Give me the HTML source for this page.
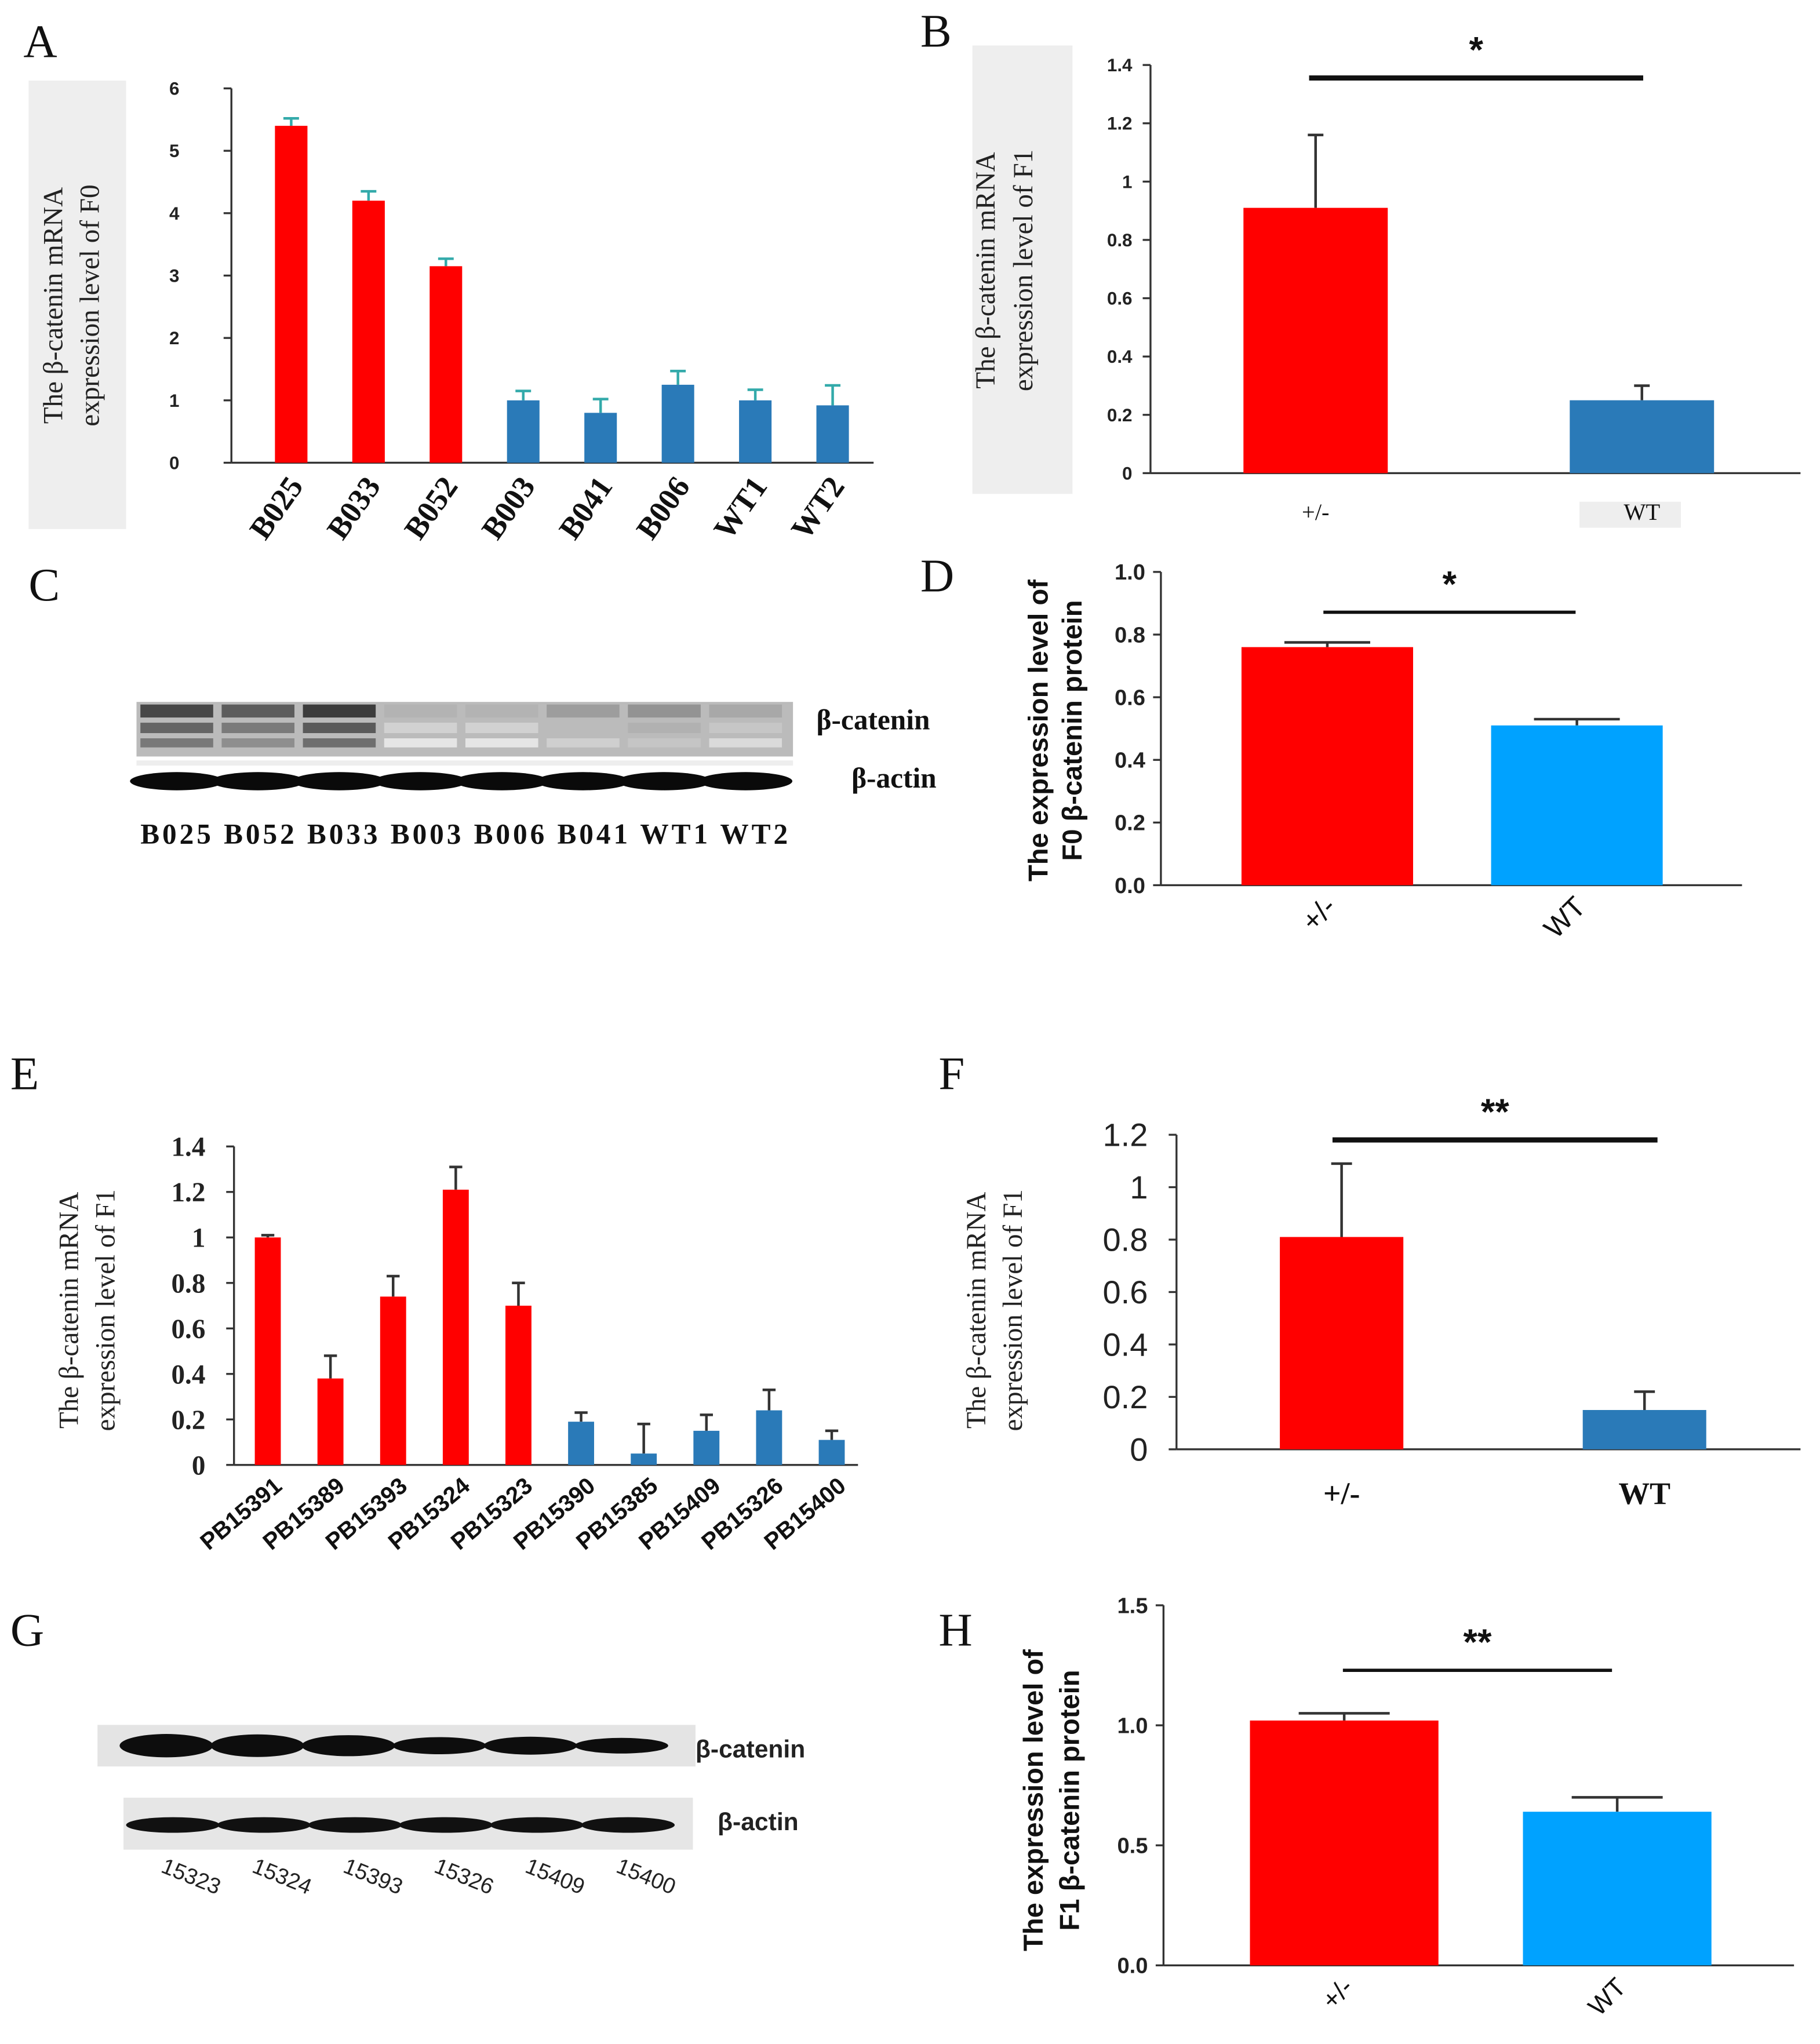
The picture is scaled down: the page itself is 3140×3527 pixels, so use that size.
<!DOCTYPE html>
<html><head><meta charset="utf-8"><style>
html,body{margin:0;padding:0;background:#fff;}
svg{display:block;}
.serif{font-family:"Liberation Serif",serif;}
.sans{font-family:"Liberation Sans",sans-serif;}
</style></head><body>
<svg id="fig" width="3140" height="3527" viewBox="0 0 1400 1572.5" preserveAspectRatio="none" xmlns="http://www.w3.org/2000/svg">
<rect width="1400" height="1572.5" fill="#fff"/>
<g class="serif" font-size="36" fill="#111">
<text x="18" y="44">A</text>
<text x="708" y="36">B</text>
<text x="22" y="462">C</text>
<text x="708" y="455">D</text>
<text x="8" y="838">E</text>
<text x="722" y="838">F</text>
<text x="8" y="1266">G</text>
<text x="722" y="1266">H</text>
</g>
<!-- gray label boxes -->
<rect x="22" y="62" width="75" height="345" fill="#eeeeee"/>
<rect x="748" y="35" width="77" height="345" fill="#eeeeee"/>
<rect x="1215" y="386" width="78" height="20" fill="#eeeeee"/>
<!-- Y titles -->
<g class="serif" font-size="21" fill="#222" text-anchor="middle">
<text transform="translate(48,235) rotate(-90)">The β-catenin mRNA</text>
<text transform="translate(76,235) rotate(-90)">expression level of F0</text>
<text transform="translate(765,208) rotate(-90)">The β-catenin mRNA</text>
<text transform="translate(794,208) rotate(-90)">expression level of F1</text>
<text transform="translate(60,1008) rotate(-90)">The β-catenin mRNA</text>
<text transform="translate(88,1008) rotate(-90)">expression level of F1</text>
<text transform="translate(758,1008) rotate(-90)">The β-catenin mRNA</text>
<text transform="translate(786,1008) rotate(-90)">expression level of F1</text>
</g>
<g class="sans" font-size="21" font-weight="bold" fill="#111" text-anchor="middle">
<text transform="translate(806,562) rotate(-90)">The expression level of</text>
<text transform="translate(832,562) rotate(-90)">F0 β-catenin protein</text>
<text transform="translate(802,1385) rotate(-90)">The expression level of</text>
<text transform="translate(830,1385) rotate(-90)">F1 β-catenin protein</text>
</g>
<!-- Blot C -->
<g>
<rect x="105" y="540" width="505" height="42" fill="#bbb"/>
<g id="blotC"></g>
<rect x="105" y="585" width="505" height="4" fill="#eee"/>
</g>
<g class="serif" font-weight="bold" fill="#111">
<text x="628" y="561" font-size="22">β-catenin</text>
<text x="655" y="606" font-size="22">β-actin</text>
<text x="108" y="649" font-size="22" textLength="498">B025 B052 B033 B003 B006 B041 WT1 WT2</text>
</g>
<!-- Blot G -->
<g>
<rect x="75" y="1327" width="460" height="32" fill="#e4e4e4"/>
<rect x="95" y="1383" width="438" height="40" fill="#e6e6e6"/>
<g id="blotG"></g>
</g>
<g class="sans" font-weight="bold" fill="#222" font-size="19">
<text x="535" y="1352">β-catenin</text>
<text x="552" y="1408">β-actin</text>
</g>
<g id="gLanes" class="sans" font-size="17" fill="#222"></g>
<g id="charts"></g>
</svg>
<script>
// Panel A data
const aCats=["B025","B033","B052","B003","B041","B006","WT1","WT2"];
const aVals=[5.4,4.2,3.15,1.0,0.8,1.25,1.0,0.92];
const aErr=[0.12,0.15,0.12,0.15,0.22,0.22,0.17,0.32];
const aTicks=[0,1,2,3,4,5,6];
// Panel B data
const bCats=["+/-","WT"];
const bVals=[0.91,0.25];
const bErr=[0.25,0.05];
const bTicks=["0","0.2","0.4","0.6","0.8","1","1.2","1.4"];
// Panel D data
const dCats=["+/-","WT"];
const dVals=[0.76,0.51];
const dErr=[0.015,0.02];
const dTicks=["0.0","0.2","0.4","0.6","0.8","1.0"];
// Panel E data
const eCats=["PB15391","PB15389","PB15393","PB15324","PB15323","PB15390","PB15385","PB15409","PB15326","PB15400"];
const eVals=[1.0,0.38,0.74,1.21,0.7,0.19,0.05,0.15,0.24,0.11];
const eErr=[0.01,0.1,0.09,0.1,0.1,0.04,0.13,0.07,0.09,0.04];
const eTicks=["0","0.2","0.4","0.6","0.8","1","1.2","1.4"];
// Panel F data
const fCats=["+/-","WT"];
const fVals=[0.81,0.15];
const fErr=[0.28,0.07];
const fTicks=["0","0.2","0.4","0.6","0.8","1","1.2"];
// Panel H data
const hCats=["+/-","WT"];
const hVals=[1.02,0.64];
const hErr=[0.03,0.06];
const hTicks=["0.0","0.5","1.0","1.5"];
// Blot intensities
const cBand=[0.85,0.75,0.9,0.35,0.35,0.45,0.5,0.4];
const gBand=[1.0,0.95,0.85,0.6,0.65,0.5];
const gLanes=["15323","15324","15393","15326","15409","15400"];

const NS="http://www.w3.org/2000/svg";
const root=document.getElementById('charts');
function mk(tag,attrs,parent){const e=document.createElementNS(NS,tag);for(const k in attrs)e.setAttribute(k,attrs[k]);(parent||root).appendChild(e);return e;}

function chart(o){
  const g=mk('g',{});
  
  
  const y=v=>o.y0-(v-o.vmin)/(o.vmax-o.vmin)*(o.y0-o.y1);
  const x=i=>o.xStart+o.step*i;
  const ax=mk('line',{x1:o.ax,y1:o.y1,x2:o.ax,y2:o.y0,stroke:o.axCol||'#333','stroke-width':o.axW||1.5},g);
  
  
  const bl=mk('line',{x1:o.ax,y1:o.y0,x2:o.xEnd,y2:o.y0,stroke:o.axCol||'#333','stroke-width':o.axW||1.5},g);
  
  
  o.ticks.forEach(t=>{
    const v=parseFloat(t), yy=y(v);
    mk('line',{x1:o.ax-6,y1:yy,x2:o.ax,y2:yy,stroke:'#333','stroke-width':1.5},g);
    const tx=mk('text',{x:o.ax-o.tickOff,y:yy+o.tickFs*0.35,'text-anchor':'end','font-size':o.tickFs,'font-family':o.tickFont,'font-weight':o.tickW||'normal',fill:'#222'},g);
    tx.textContent=t;
    
    
  });
  o.vals.forEach((v,i)=>{
    const cx=x(i), col=o.colors[i];
    const top=y(v+o.err[i]);
    mk('line',{x1:cx,y1:y(v),x2:cx,y2:top,stroke:o.errCol||'#333','stroke-width':2},g);
    mk('line',{x1:cx-o.capW,y1:top,x2:cx+o.capW,y2:top,stroke:o.errCol||'#333','stroke-width':2},g);
    const r=mk('rect',{x:cx-o.bw/2,y:y(v),width:o.bw,height:o.y0-y(v),fill:col},g);
    
    
    const lx=cx+o.lblDx, ly=o.y0+o.lblDy;
    const t=mk('text',{x:lx,y:ly,'text-anchor':o.lblRot?'end':'middle','font-size':o.lblFs,'font-family':o.lblFont,'font-weight':o.lblW||'normal',fill:'#111',transform:o.lblRot?`rotate(${o.lblRot} ${lx} ${ly})`:''},g);
    t.textContent=o.cats[i];
    
    
  });
  if(o.sig){
    const s=mk('line',{x1:o.sig[0],y1:o.sig[1],x2:o.sig[2],y2:o.sig[1],stroke:'#111','stroke-width':o.sig[3]},g);
    
    
    const st=mk('text',{x:(o.sig[0]+o.sig[2])/2,y:o.sig[1]-12,'text-anchor':'middle','font-size':28,'font-family':'Liberation Sans, sans-serif','font-weight':'bold',fill:'#111'},g);
    st.textContent=o.sigTxt;
    
    
  }
}
const R='#ff0000', B='#2a7ab8', LB='#00a2ff';
const serif='Liberation Serif, serif', sans='Liberation Sans, sans-serif';
chart({name:'chart-a',cats:aCats,vals:aVals,err:aErr,ticks:aTicks.map(String),vmin:0,vmax:6,y0:356,y1:68,ax:178,xEnd:672,xStart:224,step:59.5,bw:25,capW:6,colors:aVals.map((v,i)=>i<3?R:B),errCol:'#3aa',tickOff:40,tickFs:14,tickFont:sans,tickW:'bold',lblDx:10,lblDy:18,lblRot:-55,lblFs:24,lblFont:serif,lblW:'bold'});
chart({name:'chart-b',cats:bCats,vals:bVals,err:bErr,ticks:bTicks,vmin:0,vmax:1.4,y0:364,y1:50,ax:885,xEnd:1385,xStart:1012,step:251,bw:111,capW:6,colors:[R,B],tickOff:14,tickFs:14,tickFont:sans,tickW:'bold',lblDx:0,lblDy:36,lblFs:18,lblFont:serif,sig:[1007,60,1264,4],sigTxt:'*'});
chart({name:'chart-d',cats:dCats,vals:dVals,err:dErr,ticks:dTicks,vmin:0,vmax:1.0,y0:681,y1:440,ax:893,xEnd:1340,xStart:1021,step:192,bw:132,capW:33,colors:[R,LB],tickOff:12,tickFs:17,tickFont:sans,tickW:'bold',lblDx:8,lblDy:18,lblRot:-45,lblFs:22,lblFont:sans,lblW:'normal',sig:[1018,471,1212,2.5],sigTxt:'*'});
chart({name:'chart-e',cats:eCats,vals:eVals,err:eErr,ticks:eTicks,vmin:0,vmax:1.4,y0:1127,y1:882,ax:180,xEnd:660,xStart:206,step:48.2,bw:20,capW:5,colors:eVals.map((v,i)=>i<5?R:B),tickOff:22,tickFs:21,tickFont:serif,tickW:'bold',lblDx:12,lblDy:18,lblRot:-40,lblFs:18,lblFont:sans,lblW:'bold'});
chart({name:'chart-f',cats:fCats,vals:fVals,err:fErr,ticks:fTicks,vmin:0,vmax:1.2,y0:1115,y1:873,ax:905,xEnd:1385,xStart:1032,step:233,bw:95,capW:8,colors:[R,B],tickOff:22,tickFs:25,tickFont:sans,lblDx:0,lblDy:42,lblFs:24,lblFont:serif,lblW:'bold',sig:[1025,877,1275,4],sigTxt:'**'});
chart({name:'chart-h',cats:hCats,vals:hVals,err:hErr,ticks:hTicks,vmin:0,vmax:1.5,y0:1512,y1:1235,ax:895,xEnd:1380,xStart:1034,step:210,bw:145,capW:35,colors:[R,LB],tickOff:12,tickFs:17,tickFont:sans,tickW:'bold',lblDx:8,lblDy:18,lblRot:-45,lblFs:20,lblFont:sans,sig:[1033,1285,1240,2.5],sigTxt:'**'});

// blots
const bc=document.getElementById('blotC');
cBand.forEach((v,i)=>{
  const x0=108+62.5*i, sh=Math.round(255*(1-v*0.85));
  const c=`rgb(${sh},${sh},${sh})`;
  const r=mk('rect',{x:x0,y:542,width:56,height:10,fill:c},bc);
  
  
  mk('rect',{x:x0,y:556,width:56,height:8,fill:`rgb(${sh+30},${sh+30},${sh+30})`},bc);
  mk('rect',{x:x0,y:568,width:56,height:7,fill:`rgb(${sh+50},${sh+50},${sh+50})`},bc);
  const a=mk('ellipse',{cx:x0+28,cy:601,rx:36,ry:7,fill:'#0a0a0a'},bc);
  
  
});
const bg=document.getElementById('blotG');
const gl=document.getElementById('gLanes');
gBand.forEach((v,i)=>{
  const cx=128+70*i;
  const e=mk('ellipse',{cx:cx,cy:1343,rx:36,ry:3+6*v,fill:'#0d0d0d'},bg);
  
  
  const a=mk('ellipse',{cx:cx+5,cy:1404,rx:36,ry:6,fill:'#111'},bg);
  
  
  const t=mk('text',{x:cx-5,y:1440,transform:`rotate(22 ${cx-5} 1440)`},gl);
  t.textContent=gLanes[i];
  
  
});
</script>
</body></html>
